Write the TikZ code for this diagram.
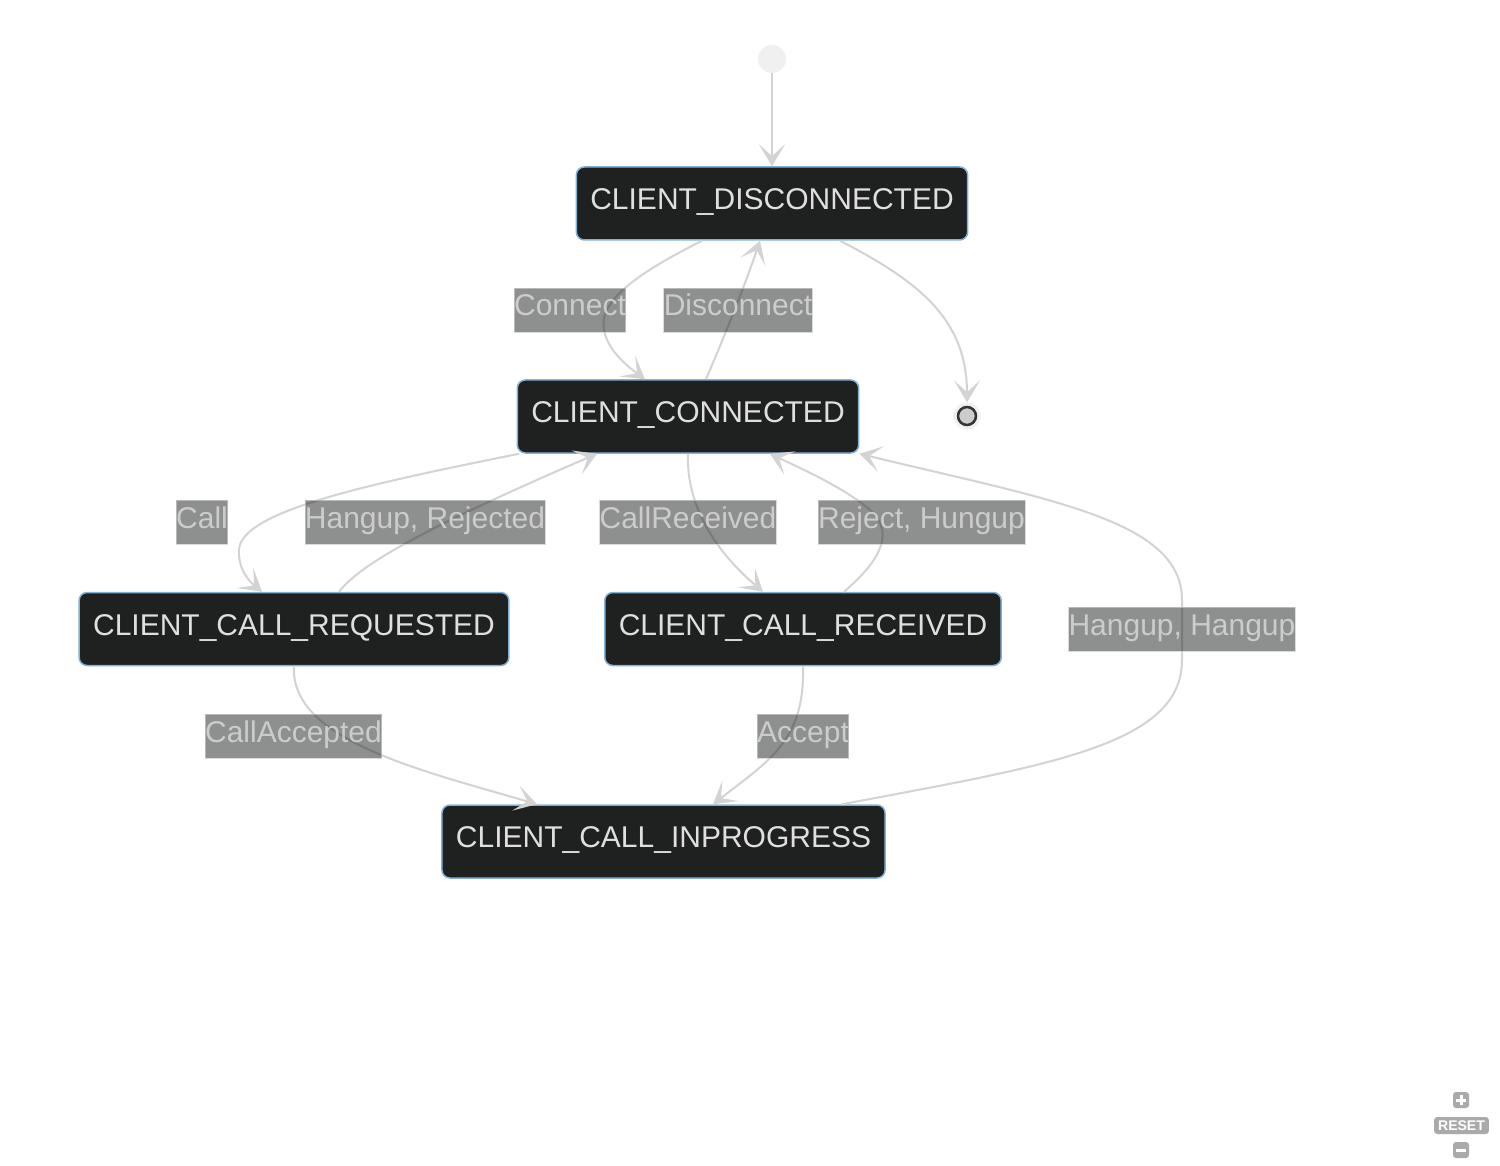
\documentclass[tikz,border=0pt]{standalone}
\usepackage{fontspec}
\setmainfont{Liberation Sans}
\usetikzlibrary{arrows.meta}
\definecolor{nodefill}{HTML}{1F2020}
\definecolor{nodeborder}{HTML}{81B1DB}
\definecolor{nodetext}{HTML}{E0DFDF}
\definecolor{edgecol}{HTML}{D3D3D3}
\definecolor{labtext}{HTML}{CCCCCC}
\definecolor{startfill}{HTML}{F0F0F0}
\definecolor{endfill}{HTML}{CCCCCC}
\definecolor{endring}{HTML}{333333}
\definecolor{ctrlgray}{HTML}{AAAAAA}
\begin{document}
\begin{tikzpicture}[x=1pt,y=-1pt,
  state/.style={draw=nodeborder, line width=1.5pt, fill=nodefill, rounded corners=8pt,
    text=nodetext, font=\fontsize{30}{36}\selectfont, minimum height=73pt,
    inner xsep=14pt, text height=22pt, text depth=10pt},
  lab/.style={fill=nodefill, fill opacity=0.5, text opacity=1, text=labtext,
    draw=labtext, draw opacity=0.7, line width=0.8pt,
    font=\fontsize{30}{36}\selectfont, inner xsep=0pt, inner ysep=6pt,
    text height=22pt, text depth=10pt},
  edge/.style={draw=edgecol, line width=2pt,
    -{Stealth[length=22pt,width=26pt,inset=12pt]}},
  ctrl/.style={fill=ctrlgray, rounded corners=3pt, inner sep=0pt}]
\useasboundingbox[fill=white] (0,0) rectangle (1500,1166);

% states
\node (dis) [state] at (772,203.5) {CLIENT\_DISCONNECTED};
\node (con) [state] at (688,416.5) {CLIENT\_CONNECTED};
\node (req) [state] at (294,629) {CLIENT\_CALL\_REQUESTED};
\node (rec) [state] at (803,629) {CLIENT\_CALL\_RECEIVED};
\node (inp) [state] at (663.5,841.5) {CLIENT\_CALL\_INPROGRESS};

% start / end
\node (start) [circle, fill=startfill, minimum size=28pt, inner sep=0pt] at (772,59) {};
\node (end) [circle, fill=startfill, minimum size=27pt, inner sep=0pt] at (967,416) {};
\node (endin) [circle, fill=endfill, draw=endring, line width=2.5pt, minimum size=18pt, inner sep=0pt] at (end.center) {};

% edges
\draw[edge] (start) -- (dis.north);
\draw[edge] ([xshift=-70pt]dis.south) .. controls (640,272) and (598,300) .. (604,330)
   .. controls (608,352) and (630,368) .. ([xshift=-43pt]con.north);
\draw[edge] ([xshift=18pt]con.north) .. controls (725,335) and (745,285) .. ([xshift=-12pt]dis.south);
\draw[edge] ([xshift=68pt]dis.south) .. controls (920,282) and (967,320) .. (end.north);
\draw[edge] ([xshift=-169pt]con.south) .. controls (380,482) and (240,510) .. (239,550)
   .. controls (238,570) and (250,582) .. ([xshift=-32pt]req.north);
\draw[edge] ([xshift=45pt]req.north) .. controls (360,565) and (420,530) .. ([xshift=-91pt]con.south);
\draw[edge] (con.south) .. controls (686,510) and (720,555) .. ([xshift=-40pt]rec.north);
\draw[edge] ([xshift=41pt]rec.north) .. controls (875,565) and (898,535) .. (870,510)
   .. controls (845,488) and (800,468) .. ([xshift=82pt]con.south);
\draw[edge] ([xshift=178.5pt]inp.north) .. controls (1050,765) and (1182,745) .. (1182,660)
   -- (1182,600) .. controls (1182,520) and (1050,500) .. (con.south east);
\draw[edge] (req.south) .. controls (290,740) and (420,770) .. ([xshift=-126.5pt]inp.north);
\draw[edge] (rec.south) .. controls (805,740) and (770,760) .. ([xshift=49.5pt]inp.north);

% labels
\node (lconnect) [lab] at (570,310) {Connect};
\node (ldisc) [lab] at (738,310) {Disconnect};
\node (lcall) [lab] at (202,522) {Call};
\node (lhr) [lab] at (425,522) {Hangup, Rejected};
\node (lcr) [lab] at (688,522) {CallReceived};
\node (lrh) [lab] at (921.5,522) {Reject, Hungup};
\node (lhh) [lab] at (1182,629) {Hangup, Hangup};
\node (lca) [lab] at (293.5,736) {CallAccepted};
\node (lacc) [lab] at (803,736) {Accept};

% zoom controls
\node (zin) [ctrl, minimum size=16pt] at (1461,1100) {};
\draw[white, line width=3pt] ([xshift=-5pt]zin.center) -- ([xshift=5pt]zin.center);
\draw[white, line width=3pt] ([yshift=-5pt]zin.center) -- ([yshift=5pt]zin.center);
\node (reset) [ctrl, text=white, font=\bfseries\fontsize{14}{14}\selectfont,
   inner xsep=4pt, minimum height=17pt] at (1461.5,1125.5) {RESET};
\node (zout) [ctrl, minimum size=16pt] at (1461,1150) {};
\draw[white, line width=3pt] ([xshift=-5pt]zout.center) -- ([xshift=5pt]zout.center);
\end{tikzpicture}
\end{document}
